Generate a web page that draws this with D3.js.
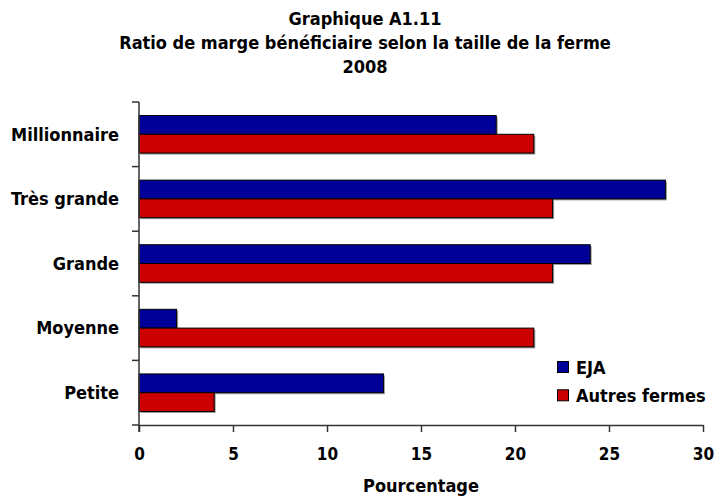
<!DOCTYPE html>
<html>
<head>
<meta charset="utf-8">
<script src="https://cdn.jsdelivr.net/npm/d3@7"></script>
<style>
  body { margin: 0; background: #fff; }
  svg text { font-family: "DejaVu Sans Condensed", "DejaVu Sans", sans-serif; font-weight: bold; fill: #000; }
</style>
</head>
<body>
<div id="chart"></div>
<script>
const categories = ['Millionnaire', 'Très grande', 'Grande', 'Moyenne', 'Petite'];
const seriesNames = ['EJA', 'Autres fermes'];
const ejaValues = [19, 28, 24, 2, 13];
const autresValues = [21, 22, 22, 21, 4];
const xTicks = [0, 5, 10, 15, 20, 25, 30];
const titleLines = ['Graphique A1.11', 'Ratio de marge bénéficiaire selon la taille de la ferme', '2008'];
const colors = ['#000099', '#cc0000'];

const W = 722, H = 497;
const margin = {left: 139, right: 19, top: 102, bottom: 72};
const width = W - margin.left - margin.right;
const height = H - margin.top - margin.bottom;

const svg = d3.select('#chart').append('svg').attr('width', W).attr('height', H);

svg.selectAll('.title')
  .data(titleLines)
  .enter().append('text')
  .attr('class', 'title')
  .attr('x', 365)
  .attr('y', (d, i) => 25 + i * 24)
  .attr('text-anchor', 'middle')
  .style('font-size', '18px')
  .text(d => d);

const g = svg.append('g').attr('transform', `translate(${margin.left}, ${margin.top})`);

const x = d3.scaleLinear().domain([0, 30]).range([0, width]);
const y = d3.scaleBand().domain(categories).range([0, height]);
const inner = d3.scaleBand().domain(seriesNames).range([0, y.bandwidth()]).paddingOuter(0.72);

const rows = categories.map((c, i) => ({cat: c, vals: [ejaValues[i], autresValues[i]]}));

const series = g.selectAll('.row')
  .data(rows)
  .enter().append('g')
  .attr('class', 'row')
  .attr('transform', d => `translate(0, ${y(d.cat)})`);

// little grey shadow under each bar
series.selectAll('.shadow')
  .data(d => d.vals.map((v, k) => ({v, k})))
  .enter().append('rect')
  .attr('x', 1.5)
  .attr('y', d => inner(seriesNames[d.k]) + 1.5)
  .attr('width', d => x(d.v))
  .attr('height', inner.bandwidth())
  .attr('fill', '#999');

series.selectAll('.bar')
  .data(d => d.vals.map((v, k) => ({v, k})))
  .enter().append('rect')
  .attr('class', 'bar')
  .attr('x', 0)
  .attr('y', d => inner(seriesNames[d.k]))
  .attr('width', d => x(d.v))
  .attr('height', inner.bandwidth())
  .attr('fill', d => colors[d.k])
  .attr('stroke', '#000')
  .attr('stroke-width', 1);

// y axis, ticks sit between the categories
const yAxisG = g.append('g');
yAxisG.append('line')
  .attr('x1', 0).attr('x2', 0).attr('y1', 0).attr('y2', height + 7)
  .attr('stroke', '#333').attr('stroke-width', 1.5);
yAxisG.selectAll('.ytick')
  .data(categories.concat(['end']))
  .enter().append('line')
  .attr('x1', -7).attr('x2', 0)
  .attr('y1', (d, i) => i * y.step())
  .attr('y2', (d, i) => i * y.step())
  .attr('stroke', '#333').attr('stroke-width', 1.5);
yAxisG.selectAll('.ylabel')
  .data(categories)
  .enter().append('text')
  .attr('x', -20)
  .attr('y', d => y(d) + y.bandwidth() / 2)
  .attr('dy', '0.35em')
  .attr('text-anchor', 'end')
  .style('font-size', '18px')
  .text(d => d);

// x axis
const xAxis = d3.axisBottom(x).tickValues(xTicks).tickSize(7).tickPadding(16).tickSizeOuter(0);
const xg = g.append('g').attr('transform', `translate(0, ${height})`).call(xAxis);
xg.select('.domain').attr('stroke', '#333').attr('stroke-width', 1.5);
xg.selectAll('.tick line').attr('stroke', '#333').attr('stroke-width', 1.5);
xg.selectAll('.tick text')
  .style('font-size', '17px')
  .style('font-family', '"DejaVu Sans Condensed", "DejaVu Sans", sans-serif')
  .style('font-weight', 'bold');

g.append('text')
  .attr('x', width / 2)
  .attr('y', height + 67)
  .attr('text-anchor', 'middle')
  .style('font-size', '18px')
  .text('Pourcentage');

// legend
const legend = g.selectAll('.legend')
  .data(seriesNames)
  .enter().append('g')
  .attr('transform', (d, i) => `translate(${418.5}, ${259.5 + i * 28.3})`);
legend.append('rect')
  .attr('width', 11).attr('height', 11)
  .attr('fill', (d, i) => colors[i])
  .attr('stroke', '#000');
legend.append('text')
  .attr('x', 18.5).attr('y', 6)
  .attr('dy', '0.35em')
  .style('font-size', '18px')
  .text(d => d);
</script>
</body>
</html>
